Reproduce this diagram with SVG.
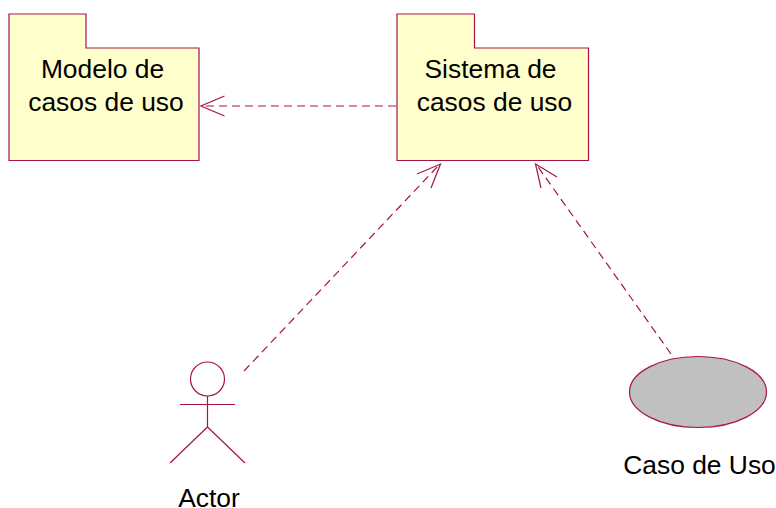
<svg xmlns="http://www.w3.org/2000/svg" width="776" height="508" viewBox="0 0 776 508">
<style>
.s{stroke:#a8124a;stroke-width:1.2;fill:none}
.p{fill:#ffffcc;stroke:#a8124a;stroke-width:1.2}
.d{stroke-dasharray:8 5}
text{font-family:"Liberation Sans",Arial,sans-serif;font-size:26.4px;fill:#000;text-anchor:middle}
</style>
<rect width="776" height="508" fill="#fff"/>
<g id="connectors" class="s">
<line class="d" x1="396" y1="106" x2="202" y2="106"/>
<polyline points="224.500,96 201,106 224.500,116"/>
<line class="d" x1="244" y1="371" x2="440" y2="164"/>
<polyline points="417,174 440.500,164 431,188"/>
<line class="d" x1="671" y1="354" x2="536" y2="164"/>
<polyline points="557,177 535.500,164 541,188"/>
</g>
<g id="modelo">
<path class="p" d="M9 14H86V48H199V160.500H9Z"/>
<text x="102.500" y="78">Modelo de</text>
<text x="106" y="110.500">casos de uso</text>
</g>
<g id="sistema">
<path class="p" d="M397 14H474.500V48H588.500V160.500H397Z"/>
<text x="490.500" y="78">Sistema de</text>
<text x="494.500" y="110.500">casos de uso</text>
</g>
<g id="actor" class="s">
<circle cx="207.500" cy="379" r="17"/>
<path d="M207.500 396V427M180 404.500H235M207.500 427L170 463M207.500 427L245 463"/>
<text x="209" y="507" style="stroke:none;fill:#000">Actor</text>
</g>
<g id="caso">
<ellipse cx="698" cy="392" rx="68.500" ry="35.500" fill="#c0c0c0" stroke="#a8124a" stroke-width="1.2"/>
<text x="699.500" y="473.500">Caso de Uso</text>
</g>
</svg>
